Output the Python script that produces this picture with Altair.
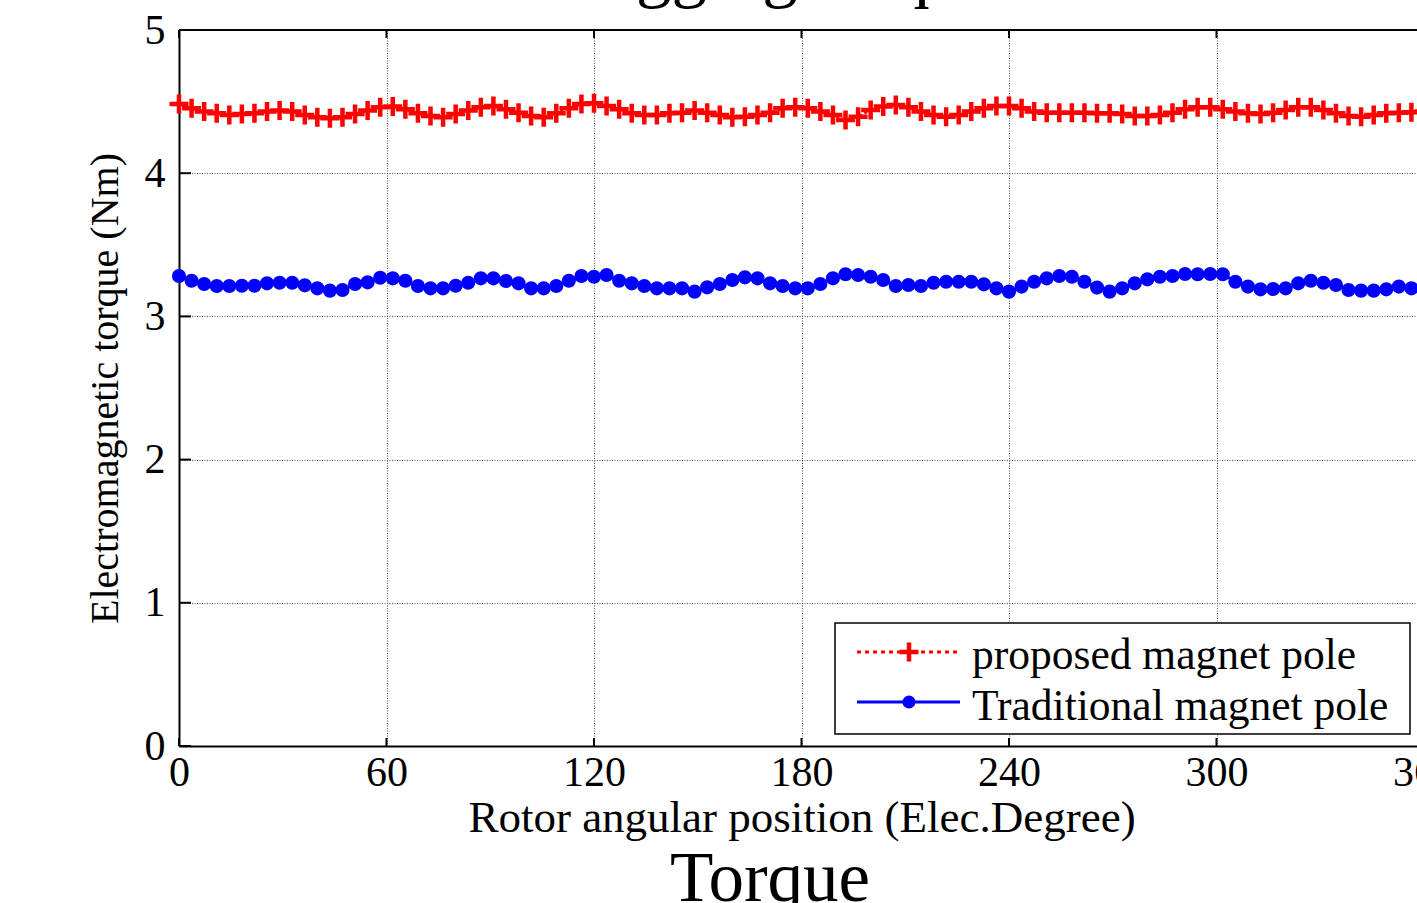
import altair as alt
import pandas as pd

# ---------------- data ----------------
N_POINTS = 100
ANGLE_MAX = 360
angles = [round(i * ANGLE_MAX / (N_POINTS - 1), 3) for i in range(N_POINTS)]

proposed = [
    4.483, 4.453, 4.430, 4.418, 4.406, 4.413, 4.418, 4.430, 4.437, 4.430,
    4.406, 4.390, 4.383, 4.390, 4.413, 4.437, 4.460, 4.465, 4.446, 4.418,
    4.399, 4.390, 4.413, 4.437, 4.460, 4.469, 4.446, 4.423, 4.399, 4.390,
    4.418, 4.453, 4.483, 4.488, 4.469, 4.446, 4.418, 4.406, 4.406, 4.418,
    4.423, 4.437, 4.423, 4.406, 4.390, 4.395, 4.406, 4.423, 4.453, 4.460,
    4.453, 4.430, 4.406, 4.372, 4.395, 4.441, 4.465, 4.476, 4.460, 4.430,
    4.406, 4.395, 4.406, 4.430, 4.453, 4.469, 4.469, 4.453, 4.430, 4.423,
    4.423, 4.423, 4.423, 4.418, 4.418, 4.413, 4.399, 4.399, 4.406, 4.423,
    4.446, 4.460, 4.460, 4.446, 4.430, 4.418, 4.413, 4.423, 4.441, 4.460,
    4.460, 4.441, 4.418, 4.399, 4.395, 4.406, 4.418, 4.423, 4.425, 4.430,
]

traditional = [
    3.282, 3.249, 3.226, 3.212, 3.212, 3.214, 3.214, 3.231, 3.235, 3.235,
    3.217, 3.196, 3.180, 3.184, 3.226, 3.238, 3.270, 3.266, 3.249, 3.212,
    3.196, 3.196, 3.214, 3.235, 3.266, 3.266, 3.247, 3.231, 3.196, 3.196,
    3.212, 3.249, 3.282, 3.277, 3.289, 3.249, 3.231, 3.212, 3.196, 3.196,
    3.196, 3.173, 3.203, 3.226, 3.254, 3.273, 3.266, 3.231, 3.212, 3.196,
    3.196, 3.226, 3.266, 3.294, 3.289, 3.277, 3.254, 3.212, 3.219, 3.212,
    3.235, 3.242, 3.242, 3.242, 3.224, 3.196, 3.173, 3.208, 3.242, 3.266,
    3.282, 3.277, 3.242, 3.201, 3.173, 3.196, 3.231, 3.259, 3.277, 3.282,
    3.296, 3.294, 3.296, 3.294, 3.242, 3.208, 3.189, 3.191, 3.196, 3.231,
    3.249, 3.235, 3.219, 3.184, 3.180, 3.180, 3.189, 3.208, 3.196, 3.200,
]

x_ticks = [0, 60, 120, 180, 240, 300, 360]
y_ticks = [0, 1, 2, 3, 4, 5]
legend_labels = ["proposed magnet pole", "Traditional magnet pole"]
x_title = "Rotor angular position (Elec.Degree)"
y_title = "Electromagnetic torque (Nm)"
top_caption = "Cogging torque"
bottom_caption = "Torque"

# ---------------- layout ----------------
FONT = "Liberation Serif"
PLOT_W_FULL = 1245      # 0..360 span in px (right end lies just outside the window)
VIEW_W = 1238
VIEW_H = 716
RED = "#ff0000"
BLUE = "#0000ff"
PLUS = "M-1,0L1,0M0,-1L0,1"

df_p = pd.DataFrame({"angle": angles, "torque": proposed})
df_t = pd.DataFrame({"angle": angles, "torque": traditional})
df_xt = pd.DataFrame({"angle": x_ticks})
df_yt = pd.DataFrame({"torque": y_ticks})
one = pd.DataFrame({"k": [0]})

x_enc = alt.X(
    "angle:Q",
    scale=alt.Scale(domain=[0, ANGLE_MAX], range=[0, PLOT_W_FULL], nice=False, zero=False),
    axis=alt.Axis(
        values=x_ticks, format="d", title=x_title,
        grid=True, gridDash=[1, 1.5], gridColor="#555555", gridWidth=1,
        ticks=False, domain=True, domainColor="black", domainWidth=2,
        labelFont=FONT, labelFontSize=42, labelColor="black", labelPadding=6,
        labelFlush=False, labelOverlap=False,
        titleFont=FONT, titleFontSize=45, titleFontWeight="normal", titleColor="black",
        titlePadding=2,
    ),
)
y_enc = alt.Y(
    "torque:Q",
    scale=alt.Scale(domain=[0, 5], nice=False, zero=False),
    axis=alt.Axis(
        values=y_ticks, format="d", title=y_title,
        grid=True, gridDash=[1, 1.5], gridColor="#555555", gridWidth=1,
        ticks=False, domain=True, domainColor="black", domainWidth=2,
        labelFont=FONT, labelFontSize=42, labelColor="black", labelPadding=14,
        labelFlush=False, labelOverlap=False,
        titleFont=FONT, titleFontSize=40, titleFontWeight="normal", titleColor="black",
        titlePadding=19,
    ),
)

red_line = alt.Chart(df_p).mark_line(color=RED, strokeWidth=2.5, strokeDash=[3, 3]).encode(x=x_enc, y=y_enc)
red_pts = alt.Chart(df_p).mark_point(shape=PLUS, filled=False, color=RED, strokeWidth=4.5, size=361, opacity=1).encode(x="angle:Q", y="torque:Q")
blue_line = alt.Chart(df_t).mark_line(color=BLUE, strokeWidth=3).encode(x="angle:Q", y="torque:Q")
blue_pts = alt.Chart(df_t).mark_circle(color=BLUE, size=200, opacity=1).encode(x="angle:Q", y="torque:Q")

# small inward tick marks (MATLAB style) on the bottom and left axes
x_inticks = alt.Chart(df_xt).mark_rule(color="black", strokeWidth=2).encode(
    x="angle:Q", y=alt.value(VIEW_H), y2=alt.value(VIEW_H - 8))
x_topticks = alt.Chart(df_xt).mark_rule(color="black", strokeWidth=2).encode(
    x="angle:Q", y=alt.value(0), y2=alt.value(8))
y_inticks = alt.Chart(df_yt).mark_rule(color="black", strokeWidth=2).encode(
    y="torque:Q", x=alt.value(0), x2=alt.value(12))

# frame top border
top_border = alt.Chart(one).mark_rule(color="black", strokeWidth=2).encode(
    x=alt.value(0), x2=alt.value(PLOT_W_FULL), y=alt.value(0))

# legend
leg_box = alt.Chart(one).mark_rect(fill="white", stroke="black", strokeWidth=1.5).encode(
    x=alt.value(656), x2=alt.value(1231), y=alt.value(593), y2=alt.value(704))
leg_red_line = alt.Chart(one).mark_rule(color=RED, strokeWidth=3, strokeDash=[4, 4]).encode(
    x=alt.value(678), x2=alt.value(781), y=alt.value(622))
leg_red_pt = alt.Chart(one).mark_point(shape=PLUS, filled=False, color=RED, strokeWidth=4.5, size=361, opacity=1).encode(
    x=alt.value(730), y=alt.value(622))
leg_blue_line = alt.Chart(one).mark_rule(color=BLUE, strokeWidth=3).encode(
    x=alt.value(678), x2=alt.value(781), y=alt.value(672))
leg_blue_pt = alt.Chart(one).mark_circle(color=BLUE, size=170, opacity=1).encode(
    x=alt.value(730), y=alt.value(672))
leg_t1 = alt.Chart(one).mark_text(text=legend_labels[0], font=FONT, fontSize=43.5, align="left", baseline="middle", color="black").encode(
    x=alt.value(793), y=alt.value(626))
leg_t2 = alt.Chart(one).mark_text(text=legend_labels[1], font=FONT, fontSize=43.5, align="left", baseline="middle", color="black").encode(
    x=alt.value(793), y=alt.value(677))

cap_top = alt.Chart(one).mark_text(text=top_caption, font=FONT, fontSize=71, align="center", baseline="alphabetic", color="black").encode(
    x=alt.value(596), y=alt.value(-36))
cap_bottom = alt.Chart(one).mark_text(text=bottom_caption, font=FONT, fontSize=71, align="center", baseline="alphabetic", color="black").encode(
    x=alt.value(591), y=alt.value(871))

chart = alt.layer(
    red_line, red_pts, blue_line, blue_pts, x_inticks, x_topticks, y_inticks, top_border,
    leg_box, leg_red_line, leg_red_pt, leg_blue_line, leg_blue_pt, leg_t1, leg_t2,
    cap_top, cap_bottom,
).properties(
    width=VIEW_W, height=VIEW_H,
    padding={"left": 179, "top": 30, "right": 0, "bottom": 157},
    autosize=alt.AutoSizeParams(type="none"),
    background="white",
).configure_view(stroke=None)

chart.save("out.html", embed_options={"renderer": "svg", "actions": False})
